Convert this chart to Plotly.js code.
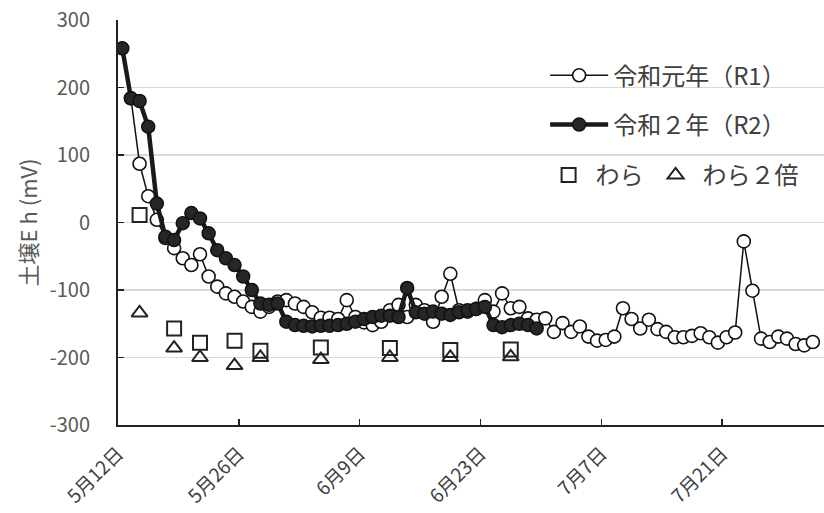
<!DOCTYPE html>
<html>
<head>
<meta charset="utf-8">
<script src="https://cdn.plot.ly/plotly-3.0.1.min.js"></script>
<style>html,body{margin:0;padding:0;background:#fff;}#chart{width:824px;height:513px;}</style>
</head>
<body>
<div id="chart"></div>
<script>
// 令和元年 (R1): daily from 5/13
const r1Start = '2020-05-13 12:00';
const r1Values = [184,87,39,4,-23,-38,-53,-63,-47,-80,-95,-105,-110,-117,-125,-132,-125,-117,-115,-120,
  -125,-133,-141,-141,-143,-115,-140,-148,-152,-147,-130,-122,-140,-122,-130,-147,-110,-76,-130,-132,
  -128,-115,-132,-105,-127,-125,-142,-144,-142,-162,-149,-162,-154,-169,-175,-174,-169,-127,-143,-157,
  -144,-158,-162,-170,-170,-168,-164,-170,-178,-170,-163,-28,-101,-172,-177,-169,-172,-180,-182,-177];
// 令和2年 (R2): daily from 5/12
const r2Start = '2020-05-12 12:00';
const r2Values = [258,184,180,142,28,-21,-26,-1,14,6,-16,-41,-53,-63,-80,-100,-120,-122,-120,-147,
  -152,-153,-154,-153,-153,-152,-150,-147,-143,-140,-138,-138,-140,-97,-133,-135,-132,-135,-137,-133,
  -130,-128,-125,-152,-155,-152,-150,-152,-157];
// わら / わら2倍
const strawDates = ['2020-05-14 12:00','2020-05-18 12:00','2020-05-21 12:00','2020-05-25 12:00','2020-05-28 12:00',
  '2020-06-04 12:00','2020-06-12 12:00','2020-06-19 12:00','2020-06-26 12:00'];
const strawValues = [11,-157,-178,-175,-190,-185,-186,-189,-188];
const straw2Values = [-134,-186,-200,-212,-200,-203,-200,-200,-199];

const tickDates = ['2020-05-12','2020-05-26','2020-06-09','2020-06-23','2020-07-07','2020-07-21'];
const tickLabels = ['5月12日','5月26日','6月9日','6月23日','7月7日','7月21日'];
const yTicks = [-300,-200,-100,0,100,200,300];
const yTickLabels = ['-300','-200','-100','0','100','200','300'];

const DAY = 86400000;
const FONT = '"Noto Sans CJK JP", "Noto Sans", sans-serif';

const traces = [
  {type:'scatter', mode:'lines+markers', name:'令和元年（R1）', x0:r1Start, dx:DAY, y:r1Values,
   line:{color:'#111', width:1.5},
   marker:{symbol:'circle', size:13, color:'#fff', line:{color:'#111', width:1.6}},
   legend:'legend', legendgroup:'a'},
  {type:'scatter', mode:'lines+markers', name:'令和２年（R2）', x0:r2Start, dx:DAY, y:r2Values,
   line:{color:'#1a1a1a', width:4.5},
   marker:{symbol:'circle', size:13, color:'#262626', line:{color:'#111', width:1.5}},
   legend:'legend', legendgroup:'b'},
  {type:'scatter', mode:'markers', name:'わら', x:strawDates, y:strawValues,
   marker:{symbol:'square-open', size:14, color:'#222', line:{width:2}},
   legend:'legend2'},
  {type:'scatter', mode:'markers', name:'わら２倍', x:strawDates, y:straw2Values,
   marker:{symbol:'triangle-up-open', size:14, color:'#222', line:{width:2}},
   legend:'legend2'}
];

const layout = {
  width:824, height:513,
  margin:{l:118, r:0, t:20, b:88},
  paper_bgcolor:'#fff', plot_bgcolor:'#fff',
  font:{family:FONT, color:'#595959', size:17},
  showlegend:true,
  xaxis:{
    type:'date',
    range:['2020-05-12 00:00','2020-08-01 19:00'],
    tickmode:'array', tickvals:tickDates, ticktext:tickLabels,
    tickangle:-45, ticks:'inside', ticklen:6, tickcolor:'#222', tickwidth:1.5,
    ticklabelstandoff:8,
    showgrid:false, showline:true, linecolor:'#222', linewidth:2,
    tickfont:{family:FONT, size:19, color:'#404040'},
    zeroline:false, fixedrange:true
  },
  yaxis:{
    range:[-300,300], tickmode:'array', tickvals:yTicks, ticktext:yTickLabels,
    ticks:'inside', ticklen:6, tickcolor:'#222', tickwidth:1.5,
    ticklabelstandoff:22,
    showgrid:true, gridcolor:'#d9d9d9', gridwidth:1.5,
    showline:true, linecolor:'#222', linewidth:2,
    zeroline:false,
    tickfont:{family:FONT, size:20, color:'#595959'},
    title:{text:'土壌E h (mV)', font:{family:FONT, size:22, color:'#595959'}, standoff:6},
    fixedrange:true
  },
  legend:{
    x:0.605, y:0.918, xanchor:'left', yanchor:'top',
    orientation:'v', bgcolor:'rgba(255,255,255,0)', tracegroupgap:15,
    font:{family:FONT, size:24, color:'#404040'}, itemwidth:58
  },
  legend2:{
    x:0.6, y:0.672, xanchor:'left', yanchor:'top',
    orientation:'h', bgcolor:'rgba(255,255,255,0)',
    font:{family:FONT, size:24, color:'#404040'}, itemwidth:44
  }
};

Plotly.newPlot('chart', traces, layout, {displayModeBar:false, staticPlot:true});
</script>
</body>
</html>
